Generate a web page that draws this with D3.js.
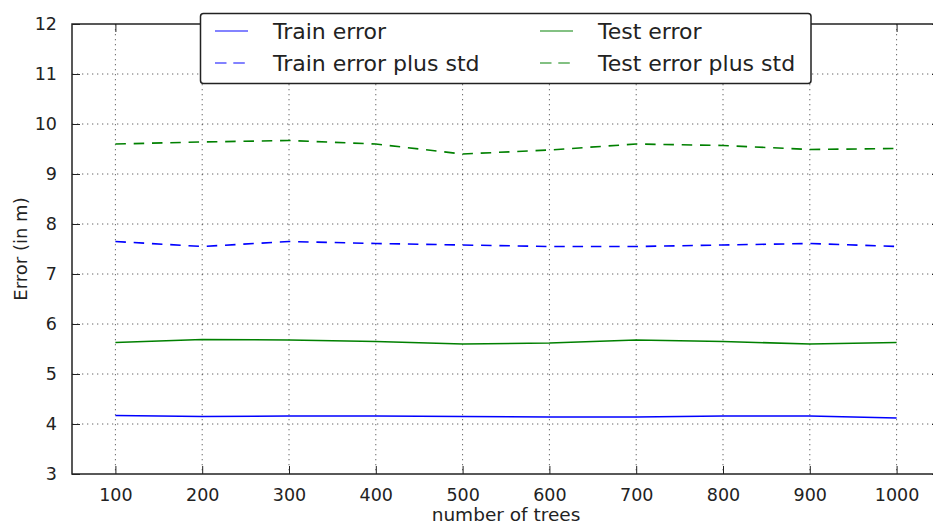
<!DOCTYPE html>
<html>
<head>
<meta charset="utf-8">
<script src="https://cdn.jsdelivr.net/npm/d3@7/dist/d3.min.js"></script>
<style>
  html, body { margin: 0; padding: 0; background: #fff; }
  svg { display: block; font-family: "DejaVu Sans", sans-serif; }
</style>
</head>
<body>
<svg id="chart" width="933" height="526"></svg>
<script>
// Number of trees in the forest
const trees = [100, 200, 300, 400, 500, 600, 700, 800, 900, 1000];

// Mean errors (in m) and mean plus one standard deviation
const trainError        = [4.17, 4.15, 4.16, 4.16, 4.15, 4.14, 4.14, 4.16, 4.16, 4.12];
const testError         = [5.63, 5.69, 5.68, 5.65, 5.60, 5.62, 5.68, 5.65, 5.60, 5.63];
const trainErrorPlusStd = [7.65, 7.55, 7.65, 7.61, 7.58, 7.55, 7.55, 7.58, 7.61, 7.55];
const testErrorPlusStd  = [9.60, 9.64, 9.67, 9.60, 9.40, 9.48, 9.60, 9.57, 9.49, 9.51];

const xTicks = [100, 200, 300, 400, 500, 600, 700, 800, 900, 1000];
const yTicks = [3, 4, 5, 6, 7, 8, 9, 10, 11, 12];

const seriesList = [
  { name: "Train error",          values: trainError,        color: "#0000ff", dashed: false },
  { name: "Train error plus std", values: trainErrorPlusStd, color: "#0000ff", dashed: true  },
  { name: "Test error",           values: testError,         color: "#008000", dashed: false },
  { name: "Test error plus std",  values: testErrorPlusStd,  color: "#008000", dashed: true  }
];

const svg = d3.select("#chart");
const plot = { left: 72, right: 940, top: 24, bottom: 474 };

const x = d3.scaleLinear().domain([50, 1050]).range([plot.left, plot.right]);
const y = d3.scaleLinear().domain([3, 12]).range([plot.bottom, plot.top]);

const dash = "10.5,7.8";
const tickLen = 8;
const textColor = "#222";

// Dotted grid
const grid = svg.append("g");
grid.selectAll("line.vg").data(xTicks).join("line")
  .attr("x1", d => x(d)).attr("x2", d => x(d))
  .attr("y1", plot.top).attr("y2", plot.bottom)
  .attr("stroke", "#000").attr("stroke-opacity", 0.6)
  .attr("stroke-width", 1).attr("stroke-dasharray", "1.3,3.7");
grid.selectAll("line.hg").data(yTicks.filter(d => d > 3 && d < 12)).join("line")
  .attr("x1", plot.left).attr("x2", plot.right)
  .attr("y1", d => y(d)).attr("y2", d => y(d))
  .attr("stroke", "#000").attr("stroke-opacity", 0.6)
  .attr("stroke-width", 1).attr("stroke-dasharray", "1.3,3.7");

// Data lines
const line = d3.line()
  .x((d, i) => x(trees[i]))
  .y(d => y(d));

svg.append("g").selectAll("path").data(seriesList).join("path")
  .attr("d", s => line(s.values))
  .attr("fill", "none")
  .attr("stroke", s => s.color)
  .attr("stroke-width", 1.6)
  .attr("stroke-dasharray", s => s.dashed ? dash : null);

// Axes with inward ticks on all sides
const bottomAxis = d3.axisBottom(x).tickValues(xTicks).tickFormat(d3.format("d"))
  .tickSize(-tickLen).tickPadding(tickLen + 7);
const leftAxis = d3.axisLeft(y).tickValues(yTicks).tickFormat(d3.format("d"))
  .tickSize(-tickLen).tickPadding(tickLen + 7);
const topAxis = d3.axisTop(x).tickValues(xTicks).tickSize(-tickLen).tickFormat("");
const rightAxis = d3.axisRight(y).tickValues(yTicks).tickSize(-tickLen).tickFormat("");

function styleAxis(g) {
  g.select(".domain").remove();
  g.selectAll(".tick line").attr("stroke", "#222").attr("stroke-width", 1);
  g.selectAll(".tick text")
    .attr("fill", textColor)
    .style("font-family", "'DejaVu Sans', sans-serif")
    .style("font-size", "17.5px");
}

svg.append("g").attr("transform", `translate(0,${plot.bottom})`).call(bottomAxis).call(styleAxis);
svg.append("g").attr("transform", `translate(${plot.left},0)`).call(leftAxis).call(styleAxis);
svg.append("g").attr("transform", `translate(0,${plot.top})`).call(topAxis).call(styleAxis);
svg.append("g").attr("transform", `translate(${plot.right},0)`).call(rightAxis).call(styleAxis);

// Frame
svg.append("rect")
  .attr("x", plot.left).attr("y", plot.top)
  .attr("width", plot.right - plot.left).attr("height", plot.bottom - plot.top)
  .attr("fill", "none").attr("stroke", "#222").attr("stroke-width", 1.5);

// Axis titles
svg.append("text")
  .attr("x", (plot.left + plot.right) / 2).attr("y", 521)
  .attr("text-anchor", "middle")
  .attr("fill", textColor)
  .style("font-size", "18.5px")
  .text("number of trees");

svg.append("text")
  .attr("transform", `translate(27,${(plot.top + plot.bottom) / 2}) rotate(-90)`)
  .attr("text-anchor", "middle")
  .attr("fill", textColor)
  .style("font-size", "18px")
  .text("Error (in m)");

// Legend, two columns
const legend = svg.append("g");
legend.append("rect")
  .attr("x", 200.5).attr("y", 13.5).attr("width", 610.5).attr("height", 70)
  .attr("rx", 3).attr("ry", 3)
  .attr("fill", "#fff").attr("stroke", "#222").attr("stroke-width", 1.5);

const colX = [215, 540];
const rowY = [31, 63];
seriesList.forEach((s, i) => {
  const col = Math.floor(i / 2), row = i % 2;
  const g = legend.append("g");
  g.append("line")
    .attr("x1", colX[col]).attr("x2", colX[col] + 33)
    .attr("y1", rowY[row]).attr("y2", rowY[row])
    .attr("stroke", s.color).attr("stroke-opacity", 0.65)
    .attr("stroke-width", 1.6)
    .attr("stroke-dasharray", s.dashed ? "11.5,6.8" : null);
  g.append("text")
    .attr("x", colX[col] + 58).attr("y", rowY[row] + 7.5)
    .attr("fill", textColor)
    .style("font-size", "22px")
    .text(s.name);
});
</script>
</body>
</html>
